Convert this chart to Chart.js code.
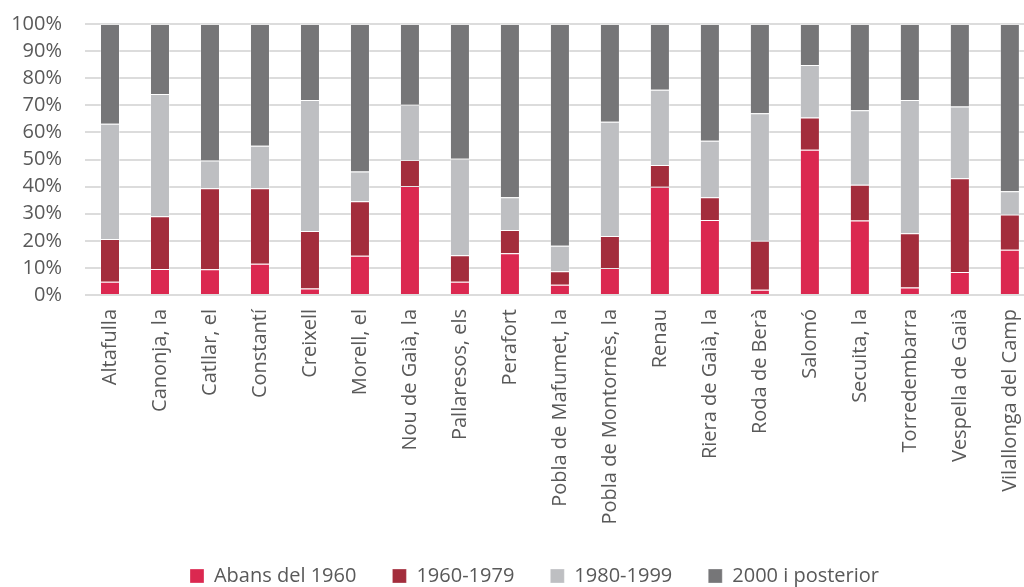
<!DOCTYPE html>
<html lang="ca">
<head>
<meta charset="utf-8">
<title>Habitatges segons any de construcció</title>
<script src="https://cdn.jsdelivr.net/npm/chart.js@4.4.1/dist/chart.umd.min.js"></script>
<style>
    html, body { margin: 0; padding: 0; background: #fff; overflow: hidden; }
    #marc { width: 1024px; height: 587px; overflow: hidden; }
    #grafic { display: block; }
</style>
</head>
<body>
<div id="marc">
    <canvas id="grafic" width="1040" height="587"></canvas>
</div>
<script>
const municipis = [
    "Altafulla", "Canonja, la", "Catllar, el", "Constantí", "Creixell",
    "Morell, el", "Nou de Gaià, la", "Pallaresos, els", "Perafort",
    "Pobla de Mafumet, la", "Pobla de Montornès, la", "Renau",
    "Riera de Gaià, la", "Roda de Berà", "Salomó", "Secuita, la",
    "Torredembarra", "Vespella de Gaià", "Vilallonga del Camp"
];

// percentatge d'habitatges per període de construcció
const abans1960 = [4.9, 9.6, 9.5, 11.5, 2.4, 14.5, 40.2, 4.9, 15.4, 3.8, 10.0, 39.9, 27.7, 1.9, 53.6, 27.5, 2.8, 8.5, 16.7];
const p1960_1979 = [15.8, 19.5, 29.9, 27.9, 21.2, 20.1, 9.6, 9.8, 8.6, 5.0, 11.8, 8.1, 8.4, 18.1, 11.9, 13.2, 20.0, 34.6, 13.0];
const p1980_1999 = [42.5, 45.1, 10.2, 15.7, 48.4, 11.0, 20.4, 35.6, 12.1, 9.4, 42.1, 27.7, 20.8, 47.1, 19.4, 27.5, 49.2, 26.5, 8.6];
const p2000 = [36.8, 25.8, 50.4, 44.9, 28.0, 54.4, 29.8, 49.7, 63.9, 81.8, 36.1, 24.3, 43.1, 32.9, 15.1, 31.8, 28.0, 30.4, 61.7];

const series = ["Abans del 1960", "1960-1979", "1980-1999", "2000 i posterior"];
const colors = ["#DB2850", "#A32D3C", "#BEBFC2", "#767678"];

const font = { family: "'Open Sans', sans-serif", size: 20 };
const textColor = "#595959";

// la llegenda va centrada una mica més a la dreta
const moureLlegenda = {
    id: "moureLlegenda",
    afterLayout(chart) {
        const l = chart.legend;
        const dx = 17, dy = -5;
        l.left += dx; l.right += dx;
        l.top += dy; l.bottom += dy;
    }
};

const valors = [abans1960, p1960_1979, p1980_1999, p2000];
const datasets = series.map((nom, i) => ({
    label: nom,
    data: valors[i],
    backgroundColor: colors[i],
    borderColor: "rgba(255,255,255,0.3)",
    borderWidth: 1,
    categoryPercentage: 1,
    barPercentage: 0.4
}));

new Chart(document.getElementById("grafic"), {
    type: "bar",
    data: { labels: municipis, datasets },
    plugins: [moureLlegenda],
    options: {
        responsive: false,
        animation: false,
        layout: { padding: { top: 24, right: 5, bottom: -14, left: 0 } },
        plugins: {
            tooltip: { enabled: false },
            legend: {
                position: "bottom",
                labels: {
                    font,
                    color: textColor,
                    boxWidth: 14,
                    boxHeight: 14,
                    padding: 36
                }
            }
        },
        scales: {
            x: {
                stacked: true,
                grid: { display: false },
                border: { display: false },
                ticks: {
                    font,
                    color: textColor,
                    autoSkip: false,
                    maxRotation: 90,
                    minRotation: 90,
                    padding: 6
                },
                // prou alçada perquè no es retallin les etiquetes llargues
                afterFit(scale) { scale.height = 240; }
            },
            y: {
                stacked: true,
                min: 0,
                max: 100,
                // marques transparents per separar les etiquetes de l'eix
                grid: { color: "#DCDCDC", lineWidth: 2, tickLength: 23, tickColor: "rgba(0,0,0,0)" },
                border: { display: false },
                ticks: {
                    font,
                    color: textColor,
                    stepSize: 10,
                    autoSkip: false,
                    padding: 0,
                    callback: v => v + "%"
                },
                afterFit(scale) { scale.width = 85; }
            }
        }
    }
});
</script>
</body>
</html>
